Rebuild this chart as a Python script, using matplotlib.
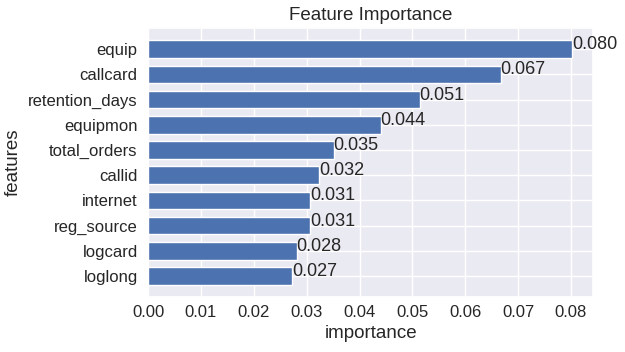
import matplotlib
matplotlib.use("Agg")
import matplotlib.pyplot as plt
import seaborn as sns
from matplotlib.ticker import MultipleLocator

features = ["equip", "callcard", "retention_days", "equipmon", "total_orders",
            "callid", "internet", "reg_source", "logcard", "loglong"]
importance = [0.0802, 0.0667, 0.0514, 0.0440, 0.0351, 0.0323, 0.0306, 0.0306, 0.0281, 0.0272]

sns.set_theme(style="darkgrid")
plt.rcParams['font.family'] = ['Liberation Sans', 'DejaVu Sans']

fig = plt.figure(figsize=(6.25, 3.52), dpi=100)
ax = fig.add_axes([0.237, 0.156, 0.712, 0.764])
ypos = list(range(len(features)))
ax.barh(ypos, importance, height=0.7, color="#4C72B0", edgecolor="white", linewidth=1.0)
ax.set_yticks(ypos)
ax.set_yticklabels(features)
ax.invert_yaxis()
ax.xaxis.set_major_locator(MultipleLocator(0.01))
for y, v in zip(ypos, importance):
    ax.text(v, y, f"{v:.3f}", fontsize=13, color="#262626")
ax.tick_params(axis='y', labelsize=12, length=0, pad=7.5)
ax.tick_params(axis='x', labelsize=12, length=0, pad=6)
ax.set_xlabel("importance", fontsize=13.5)
ax.set_ylabel("features", fontsize=13.5)
ax.xaxis.set_label_coords(0.5, -0.105)
ax.yaxis.set_label_coords(-0.284, 0.5)
ax.set_title("Feature Importance", fontsize=13.5)
fig.savefig("out.png", dpi=100)
